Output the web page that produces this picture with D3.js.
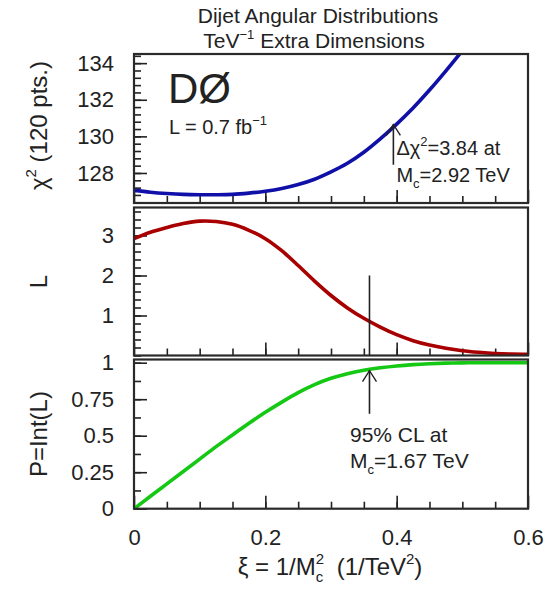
<!DOCTYPE html>
<head>
  <meta charset="utf-8">
  <title>Dijet Angular Distributions</title>
  <style>
    body { margin: 0; background: #fff; }
    svg text { font-family: "Liberation Sans", Arial, sans-serif; fill: #222; }
  </style>
</head>
<body>

<svg width="549" height="592"></svg>

<script src="https://d3js.org/d3.v7.min.js"></script>
<script>

  // xi = 1/Mc^2 sample points shared by the three curves
  const xi = [0, 0.025, 0.05, 0.075, 0.1, 0.125, 0.15, 0.175, 0.2, 0.225, 0.25, 0.275,
              0.3, 0.325, 0.35, 0.375, 0.4, 0.425, 0.45, 0.475, 0.5, 0.525, 0.55, 0.575, 0.6];

  // chi2 (blue), goes out of the frame after ~0.5
  const chi2 = [127.05, 126.95, 126.88, 126.83, 126.81, 126.81, 126.83, 126.9, 127.0, 127.15, 127.37, 127.66,
                128.06, 128.53, 129.13, 129.86, 130.67, 131.55, 132.53, 133.58, 134.68, null, null, null, null];

  // likelihood L (red)
  const likelihood = [2.92, 3.08, 3.2, 3.3, 3.36, 3.35, 3.28, 3.13, 2.92, 2.62, 2.25, 1.86,
                      1.5, 1.19, 0.93, 0.71, 0.52, 0.37, 0.26, 0.18, 0.12, 0.08, 0.05, 0.035, 0.03];

  // P = Int(L) (green)
  const prob = [0, 0.085, 0.17, 0.255, 0.34, 0.425, 0.505, 0.585, 0.66, 0.73, 0.795, 0.85,
                0.893, 0.925, 0.948, 0.965, 0.978, 0.987, 0.993, 0.997, 0.999, 1, 1, 1, 1];

  const xTicks = [0, 0.2, 0.4, 0.6];
  const chi2Ticks = [128, 130, 132, 134];
  const lTicks = [1, 2, 3];
  const pTicks = [0, 0.25, 0.5, 0.75, 1];

  // limit markers
  const chi2Arrow = {xi: 0.395, from: 128.45, to: 130.65};
  const clXi = 0.3586;
  const lMarkTop = 2;
  const pArrow = {from: 0.65, to: 0.945};

  let svg = d3.select("svg");

  const x = d3.scaleLinear().domain([0, 0.6]).range([134, 528]);

  const panels = [
    {id: "chi", y: d3.scaleLinear().domain([126.36, 134.5]).range([203, 54]),
     values: chi2, color: "#1010a8", major: chi2Ticks, minor: d3.range(126.4, 134.5, 0.4),
     fmt: d3.format("d")},
    {id: "lik", y: d3.scaleLinear().domain([0, 3.7]).range([355.5, 207.5]),
     values: likelihood, color: "#a80000", major: lTicks, minor: d3.range(0, 3.7, 0.2),
     fmt: d3.format("d")},
    {id: "prob", y: d3.scaleLinear().domain([0, 1.022]).range([508.7, 359.5]),
     values: prob, color: "#14c814", major: pTicks, minor: d3.range(0, 1.01, 0.125),
     fmt: d => d === 0 || d === 1 ? d3.format("d")(d) : String(d)}
  ];

  const defs = svg.append("defs");

  panels.forEach((p, i) => {
    const y0 = p.y.range()[0], y1 = p.y.range()[1];
    const g = svg.append("g").attr("class", "panel-" + p.id);

    defs.append("clipPath").attr("id", "clip-" + p.id)
      .append("rect")
      .attr("x", x(0)).attr("y", y1)
      .attr("width", x(0.6) - x(0)).attr("height", y0 - y1);

    // minor y ticks (inside)
    g.append("g")
      .attr("transform", `translate(${x(0)},0)`)
      .call(d3.axisLeft(p.y).tickValues(p.minor).tickSize(-7).tickFormat(""))
      .call(s => s.select(".domain").remove());

    // major y ticks + labels
    g.append("g")
      .attr("class", "yaxis")
      .attr("transform", `translate(${x(0)},0)`)
      .call(d3.axisLeft(p.y).tickValues(p.major).tickSize(-13).tickPadding(20).tickFormat(p.fmt))
      .call(s => s.select(".domain").remove());

    // x ticks on the bottom of every panel
    g.append("g")
      .attr("transform", `translate(0,${y0})`)
      .call(d3.axisBottom(x).tickValues(d3.range(0.05, 0.6, 0.05)).tickSize(-7).tickFormat(""))
      .call(s => s.select(".domain").remove());

    g.append("g")
      .attr("class", "xaxis")
      .attr("transform", `translate(0,${y0})`)
      .call(d3.axisBottom(x).tickValues(xTicks).tickSize(-13).tickPadding(21)
        .tickFormat(i === 2 ? d3.format("") : ""))
      .call(s => s.select(".domain").remove());

    g.selectAll(".tick line").attr("stroke", "#222").attr("stroke-width", 1.6);
    g.selectAll(".tick text").attr("font-size", 22).attr("fill", "#222")
      .attr("font-family", '"Liberation Sans", Arial, sans-serif');

    // curve
    const line = d3.line()
      .defined(d => d[1] !== null)
      .x(d => x(d[0]))
      .y(d => p.y(d[1]))
      .curve(d3.curveCatmullRom.alpha(0.5));

    g.append("path")
      .datum(xi.map((v, k) => [v, p.values[k]]))
      .attr("clip-path", `url(#clip-${p.id})`)
      .attr("fill", "none")
      .attr("stroke", p.color)
      .attr("stroke-width", 3.6)
      .attr("d", line);

    // frame
    g.append("rect")
      .attr("x", x(0)).attr("y", y1)
      .attr("width", x(0.6) - x(0)).attr("height", y0 - y1)
      .attr("fill", "none").attr("stroke", "#2a2a2a").attr("stroke-width", 2.2);

    p.g = g;
  });

  const [pc, pl, pp] = panels;

  // ---- titles ----
  svg.append("text").attr("x", 318).attr("y", 23).attr("text-anchor", "middle")
    .attr("font-size", 21).text("Dijet Angular Distributions");

  const t2 = svg.append("text").attr("x", 314).attr("y", 48).attr("text-anchor", "middle")
    .attr("font-size", 21);
  t2.append("tspan").text("TeV");
  t2.append("tspan").attr("font-size", 13).attr("dy", -9).text("\u22121");
  t2.append("tspan").attr("dy", 9).text(" Extra Dimensions");

  // DØ label + luminosity
  svg.append("text").attr("x", 168).attr("y", 103).attr("font-size", 42).text("D\u00d8");
  const lum = svg.append("text").attr("x", 169).attr("y", 134).attr("font-size", 20);
  lum.append("tspan").text("L = 0.7 fb");
  lum.append("tspan").attr("font-size", 13).attr("dy", -9).text("\u22121");

  // ---- y axis titles ----
  const yt1 = svg.append("text").attr("text-anchor", "middle")
    .attr("transform", `translate(47,${(pc.y.range()[0] + pc.y.range()[1]) / 2 - 3}) rotate(-90)`)
    .attr("font-size", 24);
  yt1.append("tspan").text("\u03c7");
  yt1.append("tspan").attr("font-size", 15).attr("dy", -11).text("2");
  yt1.append("tspan").attr("dy", 11).text(" (120 pts.)");

  svg.append("text").attr("text-anchor", "middle")
    .attr("transform", `translate(47,${(pl.y.range()[0] + pl.y.range()[1]) / 2})rotate(-90)`)
    .attr("font-size", 24).text("L");

  svg.append("text").attr("text-anchor", "middle")
    .attr("transform", `translate(47,${(pp.y.range()[0] + pp.y.range()[1]) / 2})rotate(-90)`)
    .attr("font-size", 24).text("P=Int(L)");

  // ---- x axis title ----
  const xt = svg.append("text").attr("x", 330).attr("y", 575).attr("text-anchor", "middle")
    .attr("font-size", 24);
  xt.append("tspan").text("\u03be = 1/M");
  xt.append("tspan").attr("font-size", 15).attr("dy", -11).text("2");
  xt.append("tspan").attr("font-size", 15).attr("dx", -8.3).attr("dy", 18).text("c");
  xt.append("tspan").attr("dy", -7).text("\u00a0\u00a0(1/TeV");
  xt.append("tspan").attr("font-size", 15).attr("dy", -11).text("2");
  xt.append("tspan").attr("dy", 11).text(")");

  // ---- chi2 limit arrow ----
  function arrow(g, xp, yFrom, yTo) {
    g.append("line").attr("x1", xp).attr("x2", xp).attr("y1", yFrom).attr("y2", yTo)
      .attr("stroke", "#222").attr("stroke-width", 1.6);
    g.append("path")
      .attr("d", `M${xp - 7},${yTo + 11}L${xp},${yTo}L${xp + 7},${yTo + 11}`)
      .attr("fill", "none").attr("stroke", "#222").attr("stroke-width", 1.4);
  }

  arrow(pc.g, x(chi2Arrow.xi), pc.y(chi2Arrow.from), pc.y(chi2Arrow.to));

  const a1 = pc.g.append("text").attr("x", x(chi2Arrow.xi) + 3).attr("y", 155).attr("font-size", 20);
  a1.append("tspan").text("\u0394\u03c7");
  a1.append("tspan").attr("font-size", 13).attr("dy", -9).text("2");
  a1.append("tspan").attr("dy", 9).text("=3.84 at");
  const a2 = pc.g.append("text").attr("x", x(chi2Arrow.xi) + 3).attr("y", 182).attr("font-size", 20);
  a2.append("tspan").text("M");
  a2.append("tspan").attr("font-size", 13).attr("dy", 6).text("c");
  a2.append("tspan").attr("dy", -6).text("=2.92 TeV");

  // ---- 95% CL line on L panel ----
  pl.g.append("line")
    .attr("x1", x(clXi)).attr("x2", x(clXi))
    .attr("y1", pl.y(lMarkTop)).attr("y2", pl.y(0))
    .attr("stroke", "#222").attr("stroke-width", 1.6);

  // ---- 95% CL arrow on P panel ----
  arrow(pp.g, x(clXi), pp.y(pArrow.from), pp.y(pArrow.to));

  pp.g.append("text").attr("x", 350).attr("y", 442).attr("font-size", 21).text("95% CL at");
  const a3 = pp.g.append("text").attr("x", 350).attr("y", 468).attr("font-size", 21);
  a3.append("tspan").text("M");
  a3.append("tspan").attr("font-size", 13).attr("dy", 6).text("c");
  a3.append("tspan").attr("dy", -6).text("=1.67 TeV");

</script>
</body>
